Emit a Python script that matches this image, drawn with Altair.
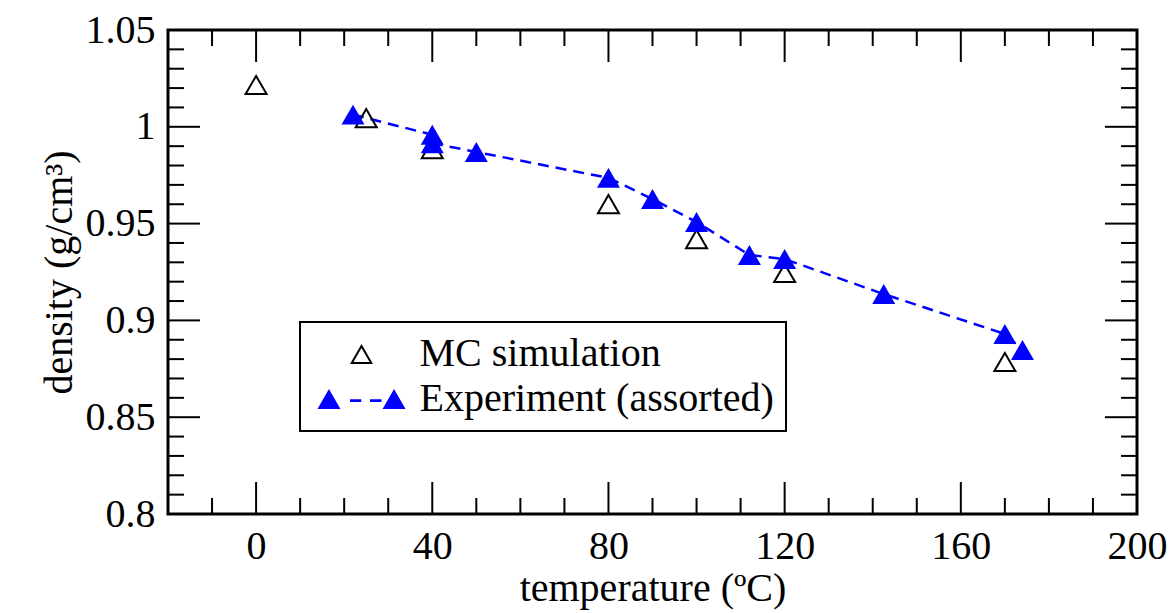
import altair as alt
import pandas as pd

# ---- data ----
mc_temp = [0, 25, 40, 80, 100, 120, 170]
mc_density = [1.0216, 1.0045, 0.9885, 0.9601, 0.9420, 0.9245, 0.8785]

exp_temp = [22, 40, 40, 50, 80, 90, 100, 112, 120, 142.5, 170, 174]
exp_density = [1.0063, 0.9959, 0.9915, 0.9870, 0.9736, 0.9627, 0.9508,
               0.9338, 0.9317, 0.9136, 0.8930, 0.8847]

series_names = ["MC simulation", "Experiment (assorted)"]

x_major = [0, 40, 80, 120, 160, 200]
x_minor = [-10, 10, 20, 30, 50, 60, 70, 90, 100, 110, 130, 140, 150, 170, 180, 190]
y_major = [0.8, 0.85, 0.9, 0.95, 1.0, 1.05]
y_minor = [0.81, 0.82, 0.83, 0.84, 0.86, 0.87, 0.88, 0.89, 0.91, 0.92, 0.93, 0.94,
           0.96, 0.97, 0.98, 0.99, 1.01, 1.02, 1.03, 1.04]

# ---- styling ----
W, H = 969, 484
FONT = "Liberation Serif"
BLUE = "#0000ff"
MAJ, MIN = 32, 16

MC_PATH = ("M0,-0.866L-1,0.866L1,0.866Z"
           "M0,-0.517L0.698,0.692L-0.698,0.692Z")
EXP_PATH = ("M-2.83,-0.866L-3.83,0.866L-1.83,0.866Z"
            "M2.83,-0.866L1.83,0.866L3.83,0.866Z"
            "M-1.0,0.03L-0.02,0.03L-0.02,0.25L-1.0,0.25Z"
            "M0.74,0.03L1.74,0.03L1.74,0.25L0.74,0.25Z")

xs = alt.Scale(domain=[-20, 200], nice=False, zero=False)
ys = alt.Scale(domain=[0.8, 1.05], nice=False, zero=False)

mc_df = pd.DataFrame({"t": mc_temp, "d": mc_density})
exp_df = pd.DataFrame({"t": exp_temp, "d": exp_density, "i": list(range(len(exp_temp)))})

x_axis = alt.Axis(values=x_major, title="temperature (ºC)", labelFont=FONT, labelFontSize=40,
                  titleFont=FONT, titleFontSize=40, titleFontWeight="normal",
                  labelColor="black", titleColor="black", ticks=False, tickSize=0,
                  domain=False, grid=False, labelPadding=12, titlePadding=2,
                  labelFlush=False, labelOverlap=False)
y_axis = alt.Axis(values=y_major, format="~g", title="density (g/cm³)", labelFont=FONT,
                  labelFontSize=40, titleFont=FONT, titleFontSize=40, titleFontWeight="normal",
                  labelColor="black", titleColor="black", ticks=False, tickSize=0,
                  domain=False, grid=False, labelPadding=13, titlePadding=6,
                  labelFlush=False, labelOverlap=False)


def X(field):
    return alt.X(field, scale=xs, axis=x_axis)


def Y(field):
    return alt.Y(field, scale=ys, axis=y_axis)


mc_pts = alt.Chart(mc_df).mark_point(shape="triangle-up", filled=False, color="black",
                                     strokeWidth=2, size=441, opacity=1).encode(
    x=X("t:Q"), y=Y("d:Q"))

exp_line = alt.Chart(exp_df).mark_line(color=BLUE, strokeWidth=2.5, strokeDash=[11, 7]).encode(
    x=X("t:Q"), y=Y("d:Q"), order="i:Q")
exp_pts = alt.Chart(exp_df).mark_point(shape="triangle-up", filled=True, color=BLUE,
                                       size=529, opacity=1).encode(
    x=X("t:Q"), y=Y("d:Q"))


# inward ticks on all four sides
def xticks(vals, length):
    df = pd.DataFrame({"v": vals})
    bot = alt.Chart(df).mark_rule(color="black", strokeWidth=2).encode(
        x=X("v:Q"), y=alt.value(H), y2=alt.value(H - length))
    top = alt.Chart(df).mark_rule(color="black", strokeWidth=2).encode(
        x=X("v:Q"), y=alt.value(0), y2=alt.value(length))
    return [bot, top]


def yticks(vals, length):
    df = pd.DataFrame({"v": vals})
    left = alt.Chart(df).mark_rule(color="black", strokeWidth=2).encode(
        y=Y("v:Q"), x=alt.value(0), x2=alt.value(length))
    right = alt.Chart(df).mark_rule(color="black", strokeWidth=2).encode(
        y=Y("v:Q"), x=alt.value(W), x2=alt.value(W - length))
    return [left, right]


tick_layers = xticks(x_major, MAJ) + xticks(x_minor, MIN) + yticks(y_major, MAJ) + yticks(y_minor, MIN)

# legend (driven by a clipped, off-domain layer)
leg_df = pd.DataFrame({"series": series_names, "t": [-100, -100], "d": [0.9, 0.9]})


def leg():
    return alt.Legend(title=None, orient="none", legendX=132, legendY=292,
                      symbolSize=529, symbolStrokeWidth=0, symbolOffset=29.5,
                      labelOffset=38, labelFont=FONT, labelFontSize=40, labelColor="black",
                      labelLimit=0, padding=12, rowPadding=5, strokeColor="black",
                      fillColor="white")


legend_layer = alt.Chart(leg_df).mark_point(filled=True, size=529, clip=True, opacity=1).encode(
    x=X("t:Q"), y=Y("d:Q"),
    shape=alt.Shape("series:N", scale=alt.Scale(domain=series_names, range=[MC_PATH, EXP_PATH]),
                    legend=leg()),
    color=alt.Color("series:N", scale=alt.Scale(domain=series_names, range=["black", BLUE]),
                    legend=leg()),
)

chart = alt.layer(*tick_layers, exp_line, mc_pts, exp_pts, legend_layer).properties(
    width=W, height=H,
    autosize=alt.AutoSizeParams(type="none"),
    padding={"left": 168, "top": 30, "right": 1173 - 168 - W, "bottom": 613 - 30 - H},
).configure_view(stroke="black", strokeWidth=3).configure_legend(strokeWidth=2)

chart.save("out.html", embed_options={"renderer": "svg", "actions": False})
